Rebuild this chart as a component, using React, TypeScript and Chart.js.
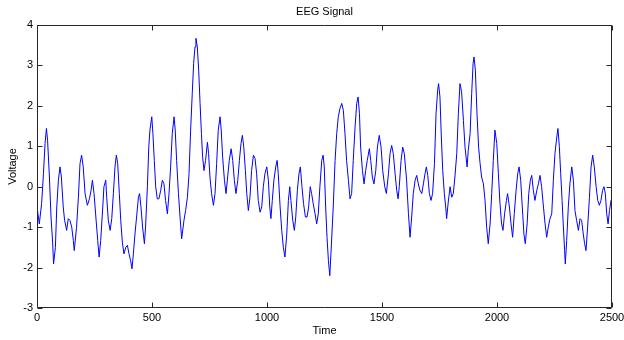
import React, { useEffect, useRef } from "react";
import { Chart, registerables } from "chart.js";

Chart.register(...registerables);

const chartTitle = "EEG Signal";
const xTitle = "Time";
const yTitle = "Voltage";
const xTicks = [0, 500, 1000, 1500, 2000, 2500];
const yTicks = [-3, -2, -1, 0, 1, 2, 3, 4];

const times = [
  0, 10, 20, 28, 35, 41, 46, 54, 61, 68, 72, 80, 86, 93, 100, 106, 114, 120, 129, 136,
  143, 151, 158, 162, 172, 180, 187, 194, 201, 209, 219, 228, 235, 241, 248, 257, 264, 270, 277, 286,
  291, 299, 303, 310, 318, 325, 332, 339, 345, 351, 358, 364, 371, 378, 386, 393, 400, 407, 413, 419,
  426, 433, 441, 446, 452, 459, 467, 472, 480, 486, 491, 499, 504, 510, 516, 523, 530, 538, 545, 552,
  559, 567, 574, 581, 588, 596, 601, 607, 615, 622, 629, 639, 646, 654, 661, 668, 675, 681, 687, 691,
  697, 703, 709, 715, 720, 726, 733, 741, 746, 752, 759, 767, 774, 781, 788, 796, 801, 807, 815, 822,
  829, 836, 844, 851, 858, 865, 873, 880, 887, 893, 899, 906, 912, 919, 926, 933, 941, 948, 955, 962,
  970, 977, 984, 991, 999, 1006, 1012, 1017, 1023, 1030, 1038, 1044, 1049, 1057, 1064, 1071, 1078, 1086, 1093, 1099,
  1104, 1112, 1119, 1125, 1132, 1139, 1145, 1152, 1159, 1167, 1174, 1181, 1188, 1194, 1201, 1209, 1216, 1223, 1230, 1238,
  1244, 1249, 1255, 1261, 1267, 1273, 1278, 1288, 1296, 1303, 1310, 1317, 1325, 1332, 1339, 1346, 1354, 1361, 1368, 1375,
  1383, 1390, 1396, 1402, 1407, 1415, 1422, 1429, 1436, 1445, 1451, 1458, 1465, 1473, 1480, 1488, 1496, 1503, 1512, 1519,
  1528, 1535, 1542, 1549, 1557, 1564, 1570, 1575, 1583, 1590, 1597, 1607, 1615, 1622, 1629, 1636, 1644, 1651, 1658, 1665,
  1673, 1680, 1687, 1693, 1699, 1706, 1713, 1720, 1728, 1735, 1742, 1746, 1752, 1758, 1764, 1771, 1777, 1781, 1788, 1796,
  1803, 1810, 1817, 1825, 1832, 1839, 1846, 1854, 1861, 1870, 1875, 1883, 1890, 1896, 1900, 1906, 1913, 1920, 1926, 1933,
  1941, 1948, 1955, 1962, 1970, 1977, 1984, 1991, 1999, 2006, 2013, 2020, 2026, 2033, 2041, 2046, 2054, 2061, 2068, 2075,
  2083, 2090, 2096, 2103, 2110, 2117, 2123, 2131, 2138, 2145, 2151, 2158, 2165, 2173, 2180, 2187, 2194, 2202, 2209, 2216,
  2223, 2230, 2238, 2245, 2252, 2260, 2265, 2271, 2277, 2283, 2288, 2294, 2297, 2303, 2310, 2317, 2325, 2332, 2339, 2346,
  2354, 2361, 2368, 2375, 2381, 2387, 2394, 2402, 2409, 2416, 2423, 2431, 2438, 2445, 2452, 2459, 2465, 2471, 2477, 2483,
  2489, 2496, 2500,
];

const voltages = [
  -0.5, -0.92, -0.42, 0.32, 1.07, 1.44, 1.15, 0.24, -0.75, -1.37, -1.91, -1.5, -0.5, 0.16, 0.49, 0.24, -0.5, -0.83, -1.08, -0.79,
  -0.83, -1.0, -1.33, -1.58, -1.0, -0.26, 0.57, 0.78, 0.49, -0.17, -0.46, -0.3, -0.09, 0.16, -0.17, -0.83, -1.33, -1.74, -1.33, -0.5,
  0, 0.16, -0.26, -0.83, -1.08, -0.79, -0.17, 0.49, 0.78, 0.57, -0.17, -0.83, -1.37, -1.66, -1.5, -1.45, -1.66, -1.83, -2.03, -1.66,
  -1.17, -0.75, -0.26, -0.17, -0.5, -1.0, -1.41, -1.0, 0, 0.98, 1.4, 1.73, 1.31, 0.65, 0, -0.3, -0.3, -0.09, 0.16, 0.07,
  -0.34, -0.67, -0.17, 0.49, 1.31, 1.73, 1.4, 0.65, -0.17, -0.75, -1.29, -0.83, -0.59, -0.26, 0.32, 1.4, 2.31, 3.05, 3.46, 3.67,
  3.46, 2.88, 2.06, 1.31, 0.74, 0.4, 0.65, 1.1, 0.82, 0.24, -0.17, -0.46, -0.17, 0.57, 1.4, 1.73, 1.4, 0.74, 0.16, -0.17,
  0.24, 0.65, 0.94, 0.65, 0.16, -0.17, 0.16, 0.65, 1.07, 1.27, 0.98, 0.4, -0.17, -0.59, -0.26, 0.4, 0.78, 0.7, 0.32, -0.34,
  -0.63, -0.5, 0, 0.32, 0.49, 0.16, -0.5, -0.79, -0.34, 0.16, 0.49, 0.65, 0.32, -0.5, -1.08, -1.5, -1.74, -1.17, -0.34, 0,
  -0.34, -0.83, -1.08, -0.75, -0.09, 0.32, 0.49, 0, -0.42, -0.75, -0.75, -0.5, 0, -0.17, -0.42, -0.67, -0.92, -0.67, 0, 0.65,
  0.78, 0.49, -0.5, -1.25, -1.83, -2.2, -1.66, -0.5, 0.65, 1.31, 1.73, 1.93, 2.06, 1.89, 1.31, 0.65, 0.16, -0.3, -0.17, 0.65,
  1.48, 2.06, 2.22, 1.81, 0.98, 0.4, 0.07, 0.4, 0.65, 0.94, 0.65, 0.24, 0.07, 0.4, 0.98, 1.27, 0.98, 0.4, 0, -0.17,
  0.32, 0.82, 1.02, 0.82, 0.32, -0.09, -0.3, 0, 0.65, 0.98, 0.82, 0.16, -0.67, -1.25, -0.75, -0.17, 0.16, 0.28, 0.07, -0.09,
  -0.17, 0.07, 0.32, 0.49, 0.28, -0.17, -0.34, -0.17, 0.57, 1.81, 2.39, 2.55, 2.22, 1.23, 0.4, -0.17, -0.5, -0.79, -0.38, 0,
  -0.26, -0.17, 0.24, 0.82, 1.81, 2.55, 2.35, 1.64, 0.98, 0.49, 0.9, 1.31, 2.31, 3.05, 3.21, 2.88, 1.81, 0.98, 0.6, 0.24,
  0.07, -0.34, -1.0, -1.41, -0.92, -0.17, 0.65, 1.4, 1.07, 0.32, -0.42, -0.92, -1.08, -0.67, -0.34, -0.17, -0.5, -0.92, -1.25, -0.67,
  -0.09, 0.32, 0.49, 0.16, -0.5, -1.17, -1.41, -0.92, -0.17, 0.16, 0.28, -0.09, -0.34, -0.09, 0.07, 0.28, 0, -0.5, -0.92, -1.25,
  -1.0, -0.8, -0.67, 0.16, 0.82, 1.23, 1.44, 1.0, 0.32, -0.34, -0.92, -1.58, -1.91, -1.33, -0.5, 0.07, 0.49, 0.16, -0.59, -0.83,
  -1.08, -0.79, -0.83, -1.17, -1.41, -1.58, -1.0, -0.26, 0.49, 0.78, 0.49, 0, -0.34, -0.46, -0.34, -0.09, 0, -0.17, -0.67, -0.92,
  -0.59, -0.34, -0.5,
];

const FONT = "'Liberation Sans', Arial, Helvetica, sans-serif";

const frame = {
  id: "matlabFrame",
  afterDraw(chart: any) {
    const { ctx, chartArea } = chart;
    const { left, right, top, bottom } = chartArea;
    const xs = chart.scales.x;
    const ys = chart.scales.y;
    ctx.save();
    ctx.strokeStyle = "#262626";
    ctx.lineWidth = 1;
    ctx.beginPath();
    const L = Math.round(left) + 0.5;
    const R = Math.round(right) - 0.5;
    const T = Math.round(top) + 0.5;
    const B = Math.round(bottom) - 0.5;
    ctx.rect(L, T, R - L, B - T);
    const len = 5;
    xTicks.forEach((v) => {
      const px = Math.round(xs.getPixelForValue(v)) + 0.5;
      ctx.moveTo(px, B);
      ctx.lineTo(px, B - len);
      ctx.moveTo(px, T);
      ctx.lineTo(px, T + len);
    });
    yTicks.forEach((v) => {
      const py = Math.round(ys.getPixelForValue(v)) + 0.5;
      ctx.moveTo(L, py);
      ctx.lineTo(L + len, py);
      ctx.moveTo(R, py);
      ctx.lineTo(R - len, py);
    });
    ctx.stroke();
    ctx.fillStyle = "#000";
    ctx.font = `11px ${FONT}`;
    ctx.textAlign = "center";
    ctx.textBaseline = "middle";
    ctx.fillText(chartTitle, (left + right) / 2, 12);
    ctx.restore();
  },
};

export default function App() {
  const ref = useRef<HTMLCanvasElement | null>(null);
  useEffect(() => {
    if (!ref.current) return;
    const data = times.map((t, i) => ({ x: t, y: voltages[i] }));
    const chart = new Chart(ref.current, {
      type: "line",
      data: {
        datasets: [
          {
            data,
            borderColor: "#0000ff",
            borderWidth: 1,
            pointRadius: 0,
            tension: 0,
            fill: false,
          },
        ],
      },
      options: {
        animation: false,
        responsive: false,
        parsing: false as any,
        layout: { padding: { top: 25, right: 12, left: 0, bottom: 0 } },
        plugins: { legend: { display: false }, tooltip: { enabled: false }, title: { display: false } },
        scales: {
          x: {
            type: "linear",
            min: 0,
            max: 2500,
            afterBuildTicks: (s: any) => {
              s.ticks = xTicks.map((v) => ({ value: v }));
            },
            afterFit: (s: any) => {
              s.height = 32;
              s.paddingRight = 0;
              s.paddingLeft = 0;
            },
            ticks: {
              color: "#000",
              font: { size: 11, family: FONT },
              padding: 3,
              autoSkip: false,
              maxRotation: 0,
              callback: (v: any) => String(v),
            },
            grid: { display: false, drawTicks: false },
            border: { display: false },
            title: { display: true, text: xTitle, color: "#000", font: { size: 11, family: FONT }, padding: { top: 0, bottom: 2 } },
          },
          y: {
            type: "linear",
            min: -3,
            max: 4,
            afterBuildTicks: (s: any) => {
              s.ticks = yTicks.map((v) => ({ value: v }));
            },
            afterFit: (s: any) => {
              s.width = 37;
              s.paddingTop = 0;
              s.paddingBottom = 0;
            },
            ticks: { color: "#000", font: { size: 11, family: FONT }, padding: 4, autoSkip: false, callback: (v: any) => String(v) },
            grid: { display: false, drawTicks: false },
            border: { display: false },
            title: { display: true, text: yTitle, color: "#000", font: { size: 11, family: FONT }, padding: { top: 6, bottom: 0 } },
          },
        },
      },
      plugins: [frame],
    });
    return () => chart.destroy();
  }, []);
  return (
    <div style={{ position: "absolute", left: 0, top: 0, width: 624, height: 340, background: "#fff" }}>
      <canvas ref={ref} width={624} height={340} />
    </div>
  );
}
